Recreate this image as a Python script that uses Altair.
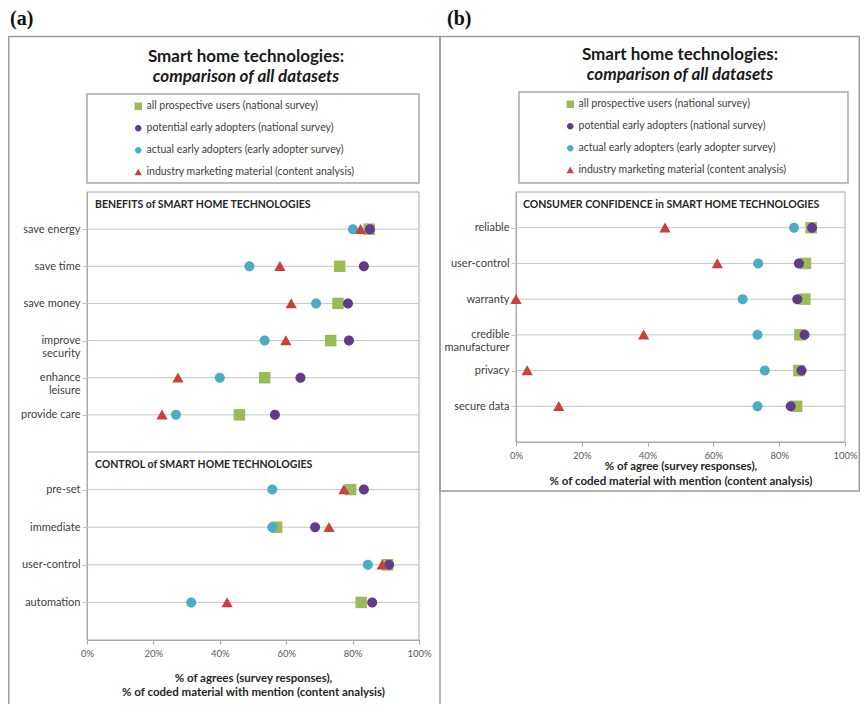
import altair as alt
import pandas as pd

FONT = "Lato"

series = [
    "all prospective users (national survey)",
    "potential early adopters (national survey)",
    "actual early adopters (early adopter survey)",
    "industry marketing material (content analysis)",
]
series_colors = ["#9BBB59", "#61398D", "#4BACC6", "#C9403E"]
series_shapes = [
    "M-1.15,-1.15L1.15,-1.15L1.15,1.15L-1.15,1.15Z",
    "M1,0A1,1,0,1,1,-1,0A1,1,0,1,1,1,0Z",
    "M1,0A1,1,0,1,1,-1,0A1,1,0,1,1,1,0Z",
    "M0,-1.05L1.12,0.95L-1.12,0.95Z",
]

benefit_cats = ["save energy", "save time", "save money", "improve security",
                "enhance leisure", "provide care"]
benefit_green = [85.0, 76.1, 75.6, 73.4, 53.5, 45.9]
benefit_purple = [85.2, 83.4, 78.6, 78.9, 64.3, 56.6]
benefit_cyan = [80.1, 48.9, 69.0, 53.5, 40.0, 26.8]
benefit_red = [82.4, 58.1, 61.5, 59.9, 27.4, 22.6]

control_cats = ["pre-set", "immediate", "user-control", "automation"]
control_green = [79.4, 57.1, 90.5, 82.6]
control_purple = [83.4, 68.7, 91.0, 85.9]
control_cyan = [55.8, 55.8, 84.6, 31.4]
control_red = [77.4, 72.9, 88.9, 42.2]

conf_cats = ["reliable", "user-control", "warranty", "credible manufacturer",
             "privacy", "secure data"]
conf_green = [89.7, 88.0, 87.8, 86.3, 86.0, 85.3]
conf_purple = [90.0, 86.0, 85.5, 87.7, 86.8, 83.5]
conf_cyan = [84.5, 73.6, 68.9, 73.4, 75.6, 73.4]
conf_red = [45.3, 61.2, 0.0, 38.8, 3.4, 13.0]

tick_values = [0, 20, 40, 60, 80, 100]
xtitle_a = ["% of agrees (survey responses),",
            "% of coded material with mention (content analysis)"]
xtitle_b = ["% of agree (survey responses),",
            "% of coded material with mention (content analysis)"]
two_line = ["improve security", "enhance leisure", "credible manufacturer"]


def long_df(cats, cols):
    rows = []
    for s, vals in zip(series, cols):
        for c, v in zip(cats, vals):
            rows.append({"category": c, "series": s, "value": v})
    return pd.DataFrame(rows)


df_b = long_df(benefit_cats, [benefit_green, benefit_purple, benefit_cyan, benefit_red])
df_c = long_df(control_cats, [control_green, control_purple, control_cyan, control_red])
df_f = long_df(conf_cats, [conf_green, conf_purple, conf_cyan, conf_red])

dummy = pd.DataFrame({"k": [0]})
GRID = "#C4C4C4"
BOX = "#A8A8A8"
FRAME = "#9C9C9C"

label_expr = ("indexof(" + str(two_line) + ", datum.label) >= 0 ? "
              "split(datum.label, ' ') : datum.label")


def legend(lx, ly):
    return alt.Legend(orient="none", legendX=lx, legendY=ly, title=None,
                      symbolSize=42, labelFontSize=10.5, labelFont=FONT,
                      labelColor="#404040", rowPadding=11, labelOffset=3,
                      labelLimit=400, symbolStrokeWidth=0)


def panel(df, cats, xrange, yrange, xaxis, yoffset, leg):
    xs = alt.Scale(domain=[0, 100], range=xrange, nice=False, zero=False)
    ys = alt.Scale(type="point", domain=cats, range=yrange, padding=1)
    yaxis = alt.Axis(orient="left", offset=yoffset, title=None, labelExpr=label_expr,
                     labelFont=FONT, labelFontSize=11, labelColor="#404040",
                     labelLineHeight=13, tickSize=5, tickColor=GRID,
                     domainColor=BOX, labelPadding=2, grid=False)
    cat_df = pd.DataFrame({"category": cats})
    rules = alt.Chart(cat_df).mark_rule(color=GRID, strokeWidth=1).encode(
        x=alt.X(datum=0, scale=xs, axis=xaxis),
        x2=alt.X2(datum=100),
        y=alt.Y("category:N", scale=ys, axis=yaxis),
    )
    color = alt.Color("series:N", scale=alt.Scale(domain=series, range=series_colors),
                      legend=leg)
    shape = alt.Shape("series:N", scale=alt.Scale(domain=series, range=series_shapes),
                      legend=leg)
    pts = alt.Chart(df).mark_point(filled=True, opacity=1, size=100).encode(
        x=alt.X("value:Q", scale=xs, axis=xaxis),
        y=alt.Y("category:N", scale=ys, axis=yaxis),
        color=color,
        shape=shape,
    )
    return alt.layer(rules, pts)


def xaxis(offset, title, label_pad, title_pad, line_h):
    return alt.Axis(orient="bottom", offset=offset, values=tick_values,
                    labelExpr="datum.value + '%'", labelFlush=False,
                    tickSize=4, tickColor=BOX, domainColor=BOX,
                    labelFont=FONT, labelFontSize=9.5, labelColor="#595959",
                    labelPadding=label_pad, title=title, titleFont=FONT,
                    titleFontSize=11.5, titleFontWeight="bold", titleColor="#262626",
                    titlePadding=title_pad, titleLineHeight=line_h, grid=False)


W = 852
H = 696
XB0, XB1 = 508, 837
benefits = panel(df_b, benefit_cats, [79, 411], [184, 444], None, -79, legend(125, 93))
control = panel(df_c, control_cats, [79, 411], [444, 632],
                xaxis(632 - H, xtitle_a, 4, 15, 14), -79, None)
confidence = panel(df_f, conf_cats, [XB0, XB1], [184, 434],
                   xaxis(434 - H, xtitle_b, 4, 1, 15), -XB0, legend(557, 91))


def rect(x1, y1, x2, y2, stroke, sw):
    return alt.Chart(dummy).mark_rect(fillOpacity=0, stroke=stroke, strokeWidth=sw).encode(
        x=alt.value(x1), x2=alt.value(x2), y=alt.value(y1), y2=alt.value(y2))


def hline(x1, x2, y, stroke, sw):
    return alt.Chart(dummy).mark_rule(color=stroke, strokeWidth=sw).encode(
        x=alt.value(x1), x2=alt.value(x2), y=alt.value(y))


def txt(s, x, y, size, weight="normal", style="normal", align="center",
        font=FONT, color="#1A1A1A"):
    return alt.Chart(dummy).mark_text(
        text=s, fontSize=size, fontWeight=weight, fontStyle=style, align=align,
        baseline="middle", font=font, color=color).encode(
        x=alt.value(x), y=alt.value(y))


deco = [
    rect(0.75, 28.5, 432, 720, FRAME, 1.5),
    rect(432, 28.5, 851.25, 483, FRAME, 1.5),
    rect(79, 86, 411, 175, BOX, 1.5),
    rect(511, 84, 840, 175, BOX, 1.5),
    rect(79, 184, 411, 632, BOX, 1),
    hline(79, 411, 444, BOX, 1),
    rect(XB0, 184, XB1, 434, BOX, 1),
    txt("(a)", 2, 11, 20, "bold", align="left", font="Liberation Serif", color="#111111"),
    txt("(b)", 439, 11, 20, "bold", align="left", font="Liberation Serif", color="#111111"),
    txt("Smart home technologies:", 238, 49, 17, "bold"),
    txt("comparison of all datasets", 238, 69, 17, "bold", "italic"),
    txt("Smart home technologies:", 672, 47, 17, "bold"),
    txt("comparison of all datasets", 672, 67, 17, "bold", "italic"),
    txt("BENEFITS of SMART HOME TECHNOLOGIES", 87, 197, 10.5, "bold", align="left",
        color="#262626"),
    txt("CONTROL of SMART HOME TECHNOLOGIES", 87, 457, 10.5, "bold", align="left",
        color="#262626"),
    txt("CONSUMER CONFIDENCE in SMART HOME TECHNOLOGIES", 515, 197, 10.5, "bold",
        align="left", color="#262626"),
]

chart = alt.layer(*deco, benefits, control, confidence).resolve_scale(
    x="independent", y="independent", color="independent", shape="independent"
).properties(
    width=W, height=H, autosize=alt.AutoSizeParams(type="none"), padding=0
).configure_view(stroke=None)

chart.save("out.html", embed_options={"renderer": "svg", "actions": False})
